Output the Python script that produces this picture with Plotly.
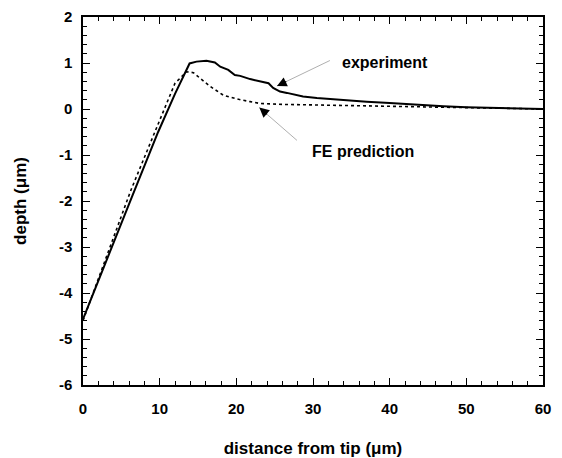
import plotly.graph_objects as go

# ---- data ----
exp_x = [0, 2, 4, 6.5, 9.8, 12, 13.9, 14.8, 16.1, 17.2, 17.9, 18.95, 19.8, 20.5,
         21.8, 23.1, 24.2, 24.8, 25.7, 26.6, 27.4, 28.7, 30.5, 32.6, 34.8, 37,
         40, 43.5, 47, 50, 55, 60]
exp_y = [-4.57, -3.73, -2.88, -1.86, -0.5, 0.33, 0.99, 1.03, 1.05, 1.01, 0.92, 0.85,
         0.74, 0.72, 0.65, 0.61, 0.56, 0.46, 0.38, 0.35, 0.32, 0.27, 0.24, 0.21,
         0.19, 0.16, 0.13, 0.09, 0.06, 0.04, 0.02, 0.0]

fe_x = [0, 2, 4, 6.26, 9.52, 12.0, 13.5, 14.4, 15.26, 16.6, 18.3, 20.3, 21.8,
        23.1, 26.1, 30.5, 34.8, 40, 43.5, 50, 55, 60]
fe_y = [-4.6, -3.68, -2.8, -1.76, -0.44, 0.56, 0.81, 0.79, 0.67, 0.49, 0.30, 0.21,
        0.16, 0.12, 0.1, 0.087, 0.07, 0.05, 0.04, 0.02, 0.01, 0.0]

x_tickvals = [0, 10, 20, 30, 40, 50, 60]
x_ticktext = ["0", "10", "20", "30", "40", "50", "60"]
y_tickvals = [-6, -5, -4, -3, -2, -1, 0, 1, 2]
y_ticktext = ["-6", "-5", "-4", "-3", "-2", "-1", "0", "1", "2"]

x_title = "distance from tip (\u03bcm)"
y_title = "depth (\u03bcm)"

# annotation anchors (data units)
exp_label = dict(text="experiment", x=39.4, y=1.02)
exp_arrow = dict(tip=(25.3, 0.5), tail=(32.4, 1.07))
fe_label = dict(text="FE prediction", x=36.5, y=-0.93)
fe_arrow = dict(tip=(23.0, 0.03), tail=(28.1, -0.71))

FONT = "Liberation Sans, Arial, sans-serif"

fig = go.Figure()
fig.add_trace(go.Scatter(x=exp_x, y=exp_y, mode="lines",
                         line=dict(color="black", width=2), showlegend=False))
fig.add_trace(go.Scatter(x=fe_x, y=fe_y, mode="lines",
                         line=dict(color="black", width=1.6, dash="3px,3px"),
                         showlegend=False))

for lab, arr in ((exp_label, exp_arrow), (fe_label, fe_arrow)):
    fig.add_annotation(x=lab["x"], y=lab["y"], text="<b>" + lab["text"] + "</b>",
                       showarrow=False, font=dict(family=FONT, size=16, color="black"))
    # thin gray shaft
    fig.add_annotation(x=arr["tip"][0], y=arr["tip"][1], ax=arr["tail"][0], ay=arr["tail"][1],
                       axref="x", ayref="y", xref="x", yref="y", text="",
                       showarrow=True, arrowhead=0, arrowwidth=0.8, arrowcolor="#9a9a9a",
                       standoff=0)
    # black arrowhead
    dx = (arr["tail"][0] - arr["tip"][0]) * 7.667
    dy = -(arr["tail"][1] - arr["tip"][1]) * 46
    L = (dx ** 2 + dy ** 2) ** 0.5
    fig.add_annotation(x=arr["tip"][0], y=arr["tip"][1], ax=dx / L * 12, ay=dy / L * 12,
                       text="", showarrow=True, arrowhead=2, arrowsize=1.5, arrowwidth=1.3,
                       arrowcolor="black", standoff=0)

tickfont = dict(family=FONT, size=15, color="black", weight="bold")
titlefont = dict(family=FONT, size=17, color="black", weight="bold")

axis_common = dict(
    showgrid=False, zeroline=False, showline=True, linecolor="black", linewidth=1.5,
    mirror="allticks", ticks="inside", ticklen=7, tickwidth=1.3, tickcolor="black",
    tickfont=tickfont, automargin=False, tickmode="array",
)

fig.update_xaxes(range=[0, 60], tickvals=x_tickvals, ticktext=x_ticktext,
                 minor=dict(dtick=2, tick0=0, ticks="inside", ticklen=4, tickwidth=1.1,
                            tickcolor="black"),
                 title=dict(text=x_title, font=titlefont, standoff=35),
                 ticklabelstandoff=9,
                 **axis_common)
fig.update_yaxes(range=[-6, 2], tickvals=y_tickvals, ticktext=y_ticktext,
                 minor=dict(dtick=0.2, tick0=0, ticks="inside", ticklen=4, tickwidth=1.1,
                            tickcolor="black"),
                 title=dict(text=y_title, font=titlefont, standoff=28),
                 ticklabelstandoff=6,
                 **axis_common)

fig.update_layout(width=562, height=458, margin=dict(l=83, r=19, t=17, b=73),
                  plot_bgcolor="white", paper_bgcolor="white",
                  font=dict(family=FONT, size=15, color="black"))

fig.write_html("out.html")
